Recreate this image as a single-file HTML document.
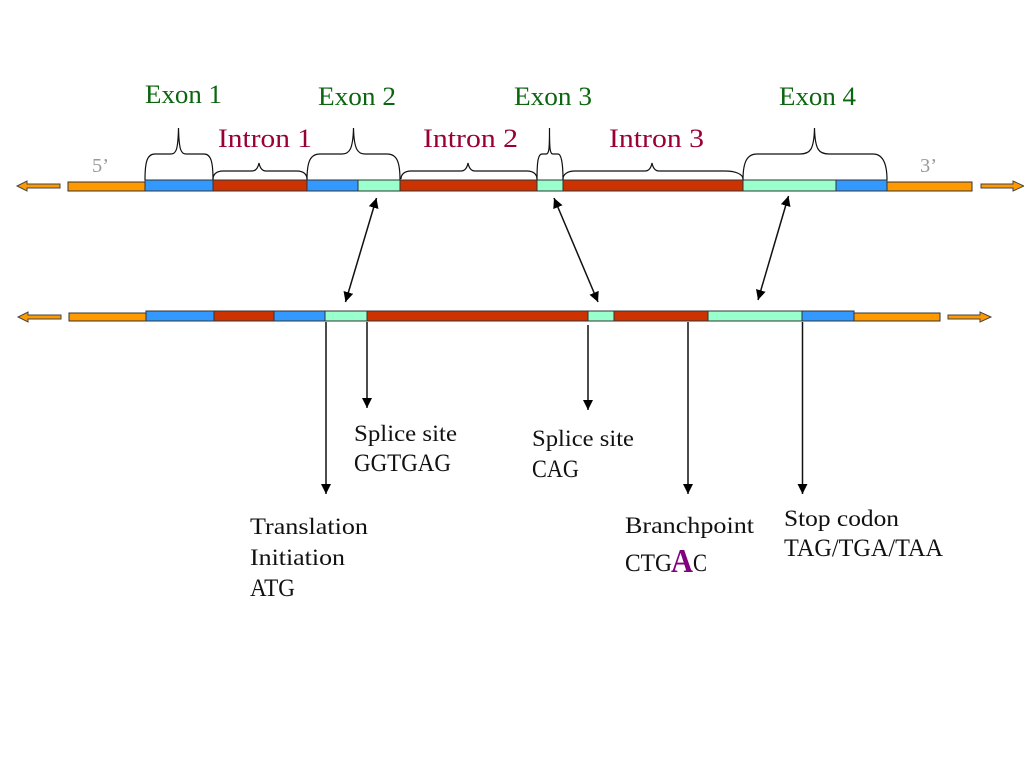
<!DOCTYPE html>
<html><head><meta charset="utf-8"><title>Gene structure</title>
<style>
html,body{margin:0;padding:0;background:#fff}
svg{display:block}
text{font-family:"Liberation Serif",serif}
.e{fill:#0b660f;font-size:26px}
.i{fill:#990033;font-size:26px}
.l{fill:#111;font-size:23px}
.c{fill:#111;font-size:25px}
.g{fill:#999;font-size:20px}
.b{fill:none;stroke:#111;stroke-width:1.2}
.s{stroke:#333;stroke-width:1}
.a{stroke:#111;stroke-width:1.5;fill:none}
</style></head><body>
<svg width="1024" height="768" viewBox="0 0 1024 768" xmlns="http://www.w3.org/2000/svg">
<defs>
<marker id="m" markerUnits="userSpaceOnUse" markerWidth="11" markerHeight="11" refX="10" refY="5" orient="auto-start-reverse"><path d="M0 0L10 5L0 10Z" fill="#000"/></marker>
</defs>
<rect width="1024" height="768" fill="#fff"/>

<!-- top bar -->
<g class="s">
<rect x="68" y="182" width="77" height="9" fill="#ff9900"/>
<rect x="887" y="182" width="85" height="9" fill="#ff9900"/>
<rect x="145" y="180" width="68" height="11" fill="#3399ff"/>
<rect x="213" y="180" width="94" height="11" fill="#cc3300"/>
<rect x="307" y="180" width="51" height="11" fill="#3399ff"/>
<rect x="358" y="180" width="42" height="11" fill="#99ffcc"/>
<rect x="400" y="180" width="137" height="11" fill="#cc3300"/>
<rect x="537" y="180" width="26" height="11" fill="#99ffcc"/>
<rect x="563" y="180" width="180" height="11" fill="#cc3300"/>
<rect x="743" y="180" width="93" height="11" fill="#99ffcc"/>
<rect x="836" y="180" width="51" height="11" fill="#3399ff"/>
</g>

<!-- bottom bar -->
<g class="s">
<rect x="69" y="313" width="77" height="8" fill="#ff9900"/>
<rect x="854" y="313" width="86" height="8" fill="#ff9900"/>
<rect x="146" y="311" width="68" height="10" fill="#3399ff"/>
<rect x="214" y="311" width="60" height="10" fill="#cc3300"/>
<rect x="274" y="311" width="51" height="10" fill="#3399ff"/>
<rect x="325" y="311" width="42" height="10" fill="#99ffcc"/>
<rect x="367" y="311" width="221" height="10" fill="#cc3300"/>
<rect x="588" y="311" width="26" height="10" fill="#99ffcc"/>
<rect x="614" y="311" width="94" height="10" fill="#cc3300"/>
<rect x="708" y="311" width="94" height="10" fill="#99ffcc"/>
<rect x="802" y="311" width="52" height="10" fill="#3399ff"/>
</g>

<!-- strand arrows -->
<g fill="#ff9900" stroke="#444" stroke-width="1">
<path d="M60 184V188H27V191L17 186L27 181V184Z"/>
<path d="M981 184V188H1013V191L1024 186L1013 181V184Z"/>
<path d="M61 315V319H28V322L18 317L28 312V315Z"/>
<path d="M948 315V319H980V322L991 317L980 312V315Z"/>
</g>

<!-- braces -->
<path class="b" d="M145 180C145 162 147 154 155 154H171C176 154 178 150 178.500 128C179 150 181 154 186 154H204C211 154 213 162 213 180"/>
<path class="b" d="M213 179C213 174 217 171 223 171H252C256 171 258 168 259 163C260 168 262 171 266 171H297C303 171 307 174 307 179"/>
<path class="b" d="M307 180C307 162 310 154 320 154H342C349 154 353 150 353.500 128C354 150 358 154 365 154H387C397 154 400 162 400 180"/>
<path class="b" d="M401 179C401 174 405 171 411 171H461C465 171 467 168 468 163C469 168 471 171 475 171H527C533 171 537 174 537 179"/>
<path class="b" d="M537 180C537 162 538 154 542 154H546C549 154 549.500 150 549.500 128C549.500 150 550 154 553 154H558C561 154 563 162 563 180"/>
<path class="b" d="M563 179C563 174 568 171 575 171H645C649 171 651 168 652 163C653 168 655 171 659 171H725C735 171 743 174 743 179"/>
<path class="b" d="M743 180C743 162 747 154 757 154H800C810 154 814 150 814.500 128C815 150 819 154 829 154H873C882 154 887 162 887 180"/>

<!-- double arrows -->
<g class="a">
<line x1="376.500" y1="198" x2="345.500" y2="302" marker-start="url(#m)" marker-end="url(#m)"/>
<line x1="554" y1="198" x2="598" y2="302" marker-start="url(#m)" marker-end="url(#m)"/>
<line x1="788.500" y1="196" x2="758" y2="300" marker-start="url(#m)" marker-end="url(#m)"/>
</g>

<!-- vertical arrows -->
<g class="a">
<line x1="326" y1="322" x2="326" y2="494" marker-end="url(#m)"/>
<line x1="367" y1="322" x2="367" y2="408" marker-end="url(#m)"/>
<line x1="588" y1="325" x2="588" y2="410" marker-end="url(#m)"/>
<line x1="688" y1="322" x2="688" y2="494" marker-end="url(#m)"/>
<line x1="802.500" y1="322" x2="802.500" y2="494" marker-end="url(#m)"/>
</g>

<!-- headings -->
<text class="e" x="145" y="103" textLength="77" lengthAdjust="spacingAndGlyphs">Exon 1</text>
<text class="e" x="318" y="105" textLength="78" lengthAdjust="spacingAndGlyphs">Exon 2</text>
<text class="e" x="514" y="105" textLength="78" lengthAdjust="spacingAndGlyphs">Exon 3</text>
<text class="e" x="779" y="105" textLength="77" lengthAdjust="spacingAndGlyphs">Exon 4</text>
<text class="i" x="218" y="147" textLength="94" lengthAdjust="spacingAndGlyphs">Intron 1</text>
<text class="i" x="423" y="147" textLength="95" lengthAdjust="spacingAndGlyphs">Intron 2</text>
<text class="i" x="609" y="147" textLength="95" lengthAdjust="spacingAndGlyphs">Intron 3</text>
<text class="g" x="92" y="172" textLength="17" lengthAdjust="spacingAndGlyphs">5’</text>
<text class="g" x="920" y="172" textLength="17" lengthAdjust="spacingAndGlyphs">3’</text>

<!-- labels -->
<text class="l" x="354" y="441" textLength="103" lengthAdjust="spacingAndGlyphs">Splice site</text>
<text class="c" x="354" y="471" textLength="97" lengthAdjust="spacingAndGlyphs">GGTGAG</text>
<text class="l" x="532" y="446" textLength="102" lengthAdjust="spacingAndGlyphs">Splice site</text>
<text class="c" x="532" y="477" textLength="47" lengthAdjust="spacingAndGlyphs">CAG</text>
<text class="l" x="250" y="534" textLength="118" lengthAdjust="spacingAndGlyphs">Translation</text>
<text class="l" x="250" y="565" textLength="95" lengthAdjust="spacingAndGlyphs">Initiation</text>
<text class="c" x="250" y="596" textLength="45" lengthAdjust="spacingAndGlyphs">ATG</text>
<text class="l" x="625" y="533" textLength="129" lengthAdjust="spacingAndGlyphs">Branchpoint</text>
<text class="c" x="625" y="571" textLength="47" lengthAdjust="spacingAndGlyphs">CTG</text>
<text x="671" y="572" font-size="34" font-weight="bold" fill="#800080" textLength="22" lengthAdjust="spacingAndGlyphs">A</text>
<text class="c" x="693" y="571" textLength="14" lengthAdjust="spacingAndGlyphs">C</text>
<text class="l" x="784" y="526" textLength="115" lengthAdjust="spacingAndGlyphs">Stop codon</text>
<text class="c" x="784" y="556" textLength="159" lengthAdjust="spacingAndGlyphs">TAG/TGA/TAA</text>
</svg>
</body></html>
